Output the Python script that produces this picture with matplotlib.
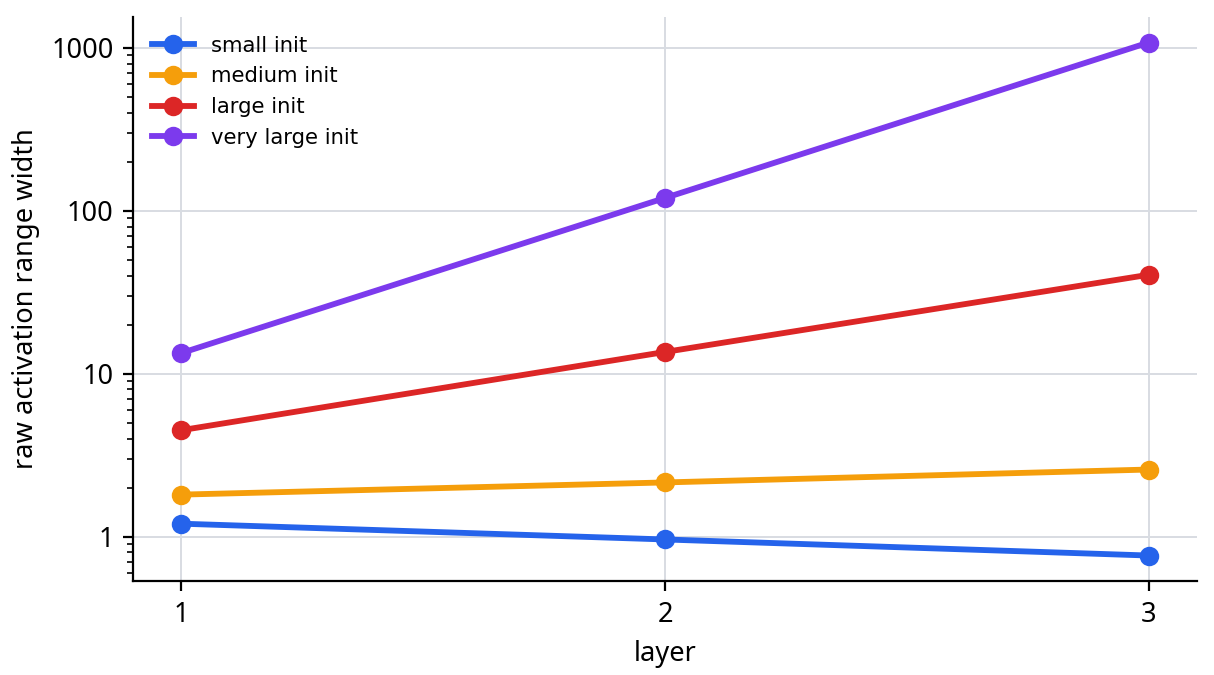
import numpy as np
import matplotlib.pyplot as plt
from matplotlib.ticker import FixedLocator, FixedFormatter

layers = [1, 2, 3]
small = [1.2, 0.96, 0.765]
medium = [1.81, 2.15, 2.58]
large = [4.5, 13.6, 40.5]
very_large = [13.4, 120, 1080]

series = [("small init", small, "#2563eb"),
          ("medium init", medium, "#f59e0b"),
          ("large init", large, "#dc2626"),
          ("very large init", very_large, "#7c3aed")]

plt.rcParams['font.family'] = ['Noto Sans', 'DejaVu Sans']

fig = plt.figure(figsize=(6.07, 3.375), dpi=200)
ax = fig.add_axes([0.1096, 0.139, 0.8764, 0.836])

for name, vals, col in series:
    ax.plot(layers, vals, marker='o', color=col, lw=2.1, ms=6, label=name, zorder=3)

ax.set_yscale('log')
ax.yaxis.set_major_locator(FixedLocator([1, 10, 100, 1000]))
ax.yaxis.set_major_formatter(FixedFormatter(["1", "10", "100", "1000"]))
ax.set_xticks(layers)
ax.grid(True, color="#d8dce2", lw=0.7, zorder=0)
ax.spines['top'].set_visible(False)
ax.spines['right'].set_visible(False)
ax.tick_params(labelsize=9.8)
ax.set_xlabel("layer", fontsize=9.8)
ax.set_ylabel("raw activation range width", fontsize=9.8)
ax.legend(loc='upper left', frameon=False, prop={'family': 'DejaVu Sans', 'size': 7.6})

fig.savefig("out.png", dpi=200)
